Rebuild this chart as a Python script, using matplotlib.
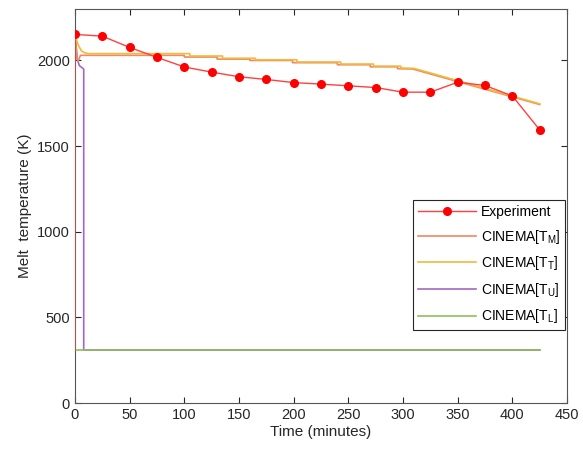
import matplotlib
matplotlib.use("Agg")
import matplotlib.pyplot as plt

plt.rcParams['font.family'] = ['Liberation Sans', 'DejaVu Sans']
plt.rcParams['mathtext.fontset'] = 'custom'
plt.rcParams['mathtext.rm'] = 'Liberation Sans'

exp_t = [0, 25, 50, 75, 100, 125, 150, 175, 200, 225, 250, 275, 300, 325, 350, 375, 400, 425]
exp_T = [2152, 2142, 2076, 2018, 1962, 1932, 1905, 1889, 1871, 1862, 1852, 1842, 1815, 1815, 1873, 1854, 1793, 1595]

tm_t = [0, 0, 1, 2, 3, 5, 8, 100, 100, 130, 130, 160, 160, 199, 199, 240, 240, 270, 270, 295, 295, 309, 425]
tm_T = [310, 2150, 2090, 2010, 1998, 2030, 2030, 2030, 2020, 2020, 2008, 2008, 2000, 2000, 1987, 1987, 1975, 1975, 1963, 1963, 1952, 1950, 1743]

tt_t = [0, 3, 6, 9, 12, 105, 105, 135, 135, 165, 165, 203, 203, 243, 243, 273, 273, 298, 298, 310, 425]
tt_T = [2150, 2090, 2055, 2045, 2040, 2040, 2026, 2026, 2013, 2013, 2004, 2004, 1991, 1991, 1979, 1979, 1967, 1967, 1956, 1954, 1747]

tu_t = [0, 1, 2, 4, 6, 7, 8, 8, 425]
tu_T = [2150, 2080, 2010, 1970, 1960, 1955, 1950, 310, 310]

tl_t = [0, 425]
tl_T = [310, 310]

fig = plt.figure(figsize=(5.83, 4.53), dpi=100)
ax = fig.add_axes([0.1286, 0.110, 0.8440, 0.870])

ax.plot(tu_t, tu_T, color='#A368C4', lw=1.2, label='CINEMA[T$_\\mathrm{U}$]', zorder=2)
ax.plot(tl_t, tl_T, color='#8DBE5A', lw=1.2, label='CINEMA[T$_\\mathrm{L}$]', zorder=3)
ax.plot(tm_t, tm_T, color='#EE8866', lw=1.2, label='CINEMA[T$_\\mathrm{M}$]', zorder=4)
ax.plot(tt_t, tt_T, color='#F2B93A', lw=1.2, label='CINEMA[T$_\\mathrm{T}$]', zorder=5)
ax.plot([0, 0], [310, 2150], color='#B04A40', lw=1.2, zorder=4)
ax.plot(exp_t, exp_T, color='#FF4040', lw=1.0, marker='o', markersize=5.5,
        markerfacecolor='#FF0000', markeredgecolor='#FF0000', label='Experiment', zorder=6)

ax.set_xlim(0, 450)
ax.set_ylim(0, 2300)
ax.set_xticks(range(0, 451, 50))
ax.set_yticks([0, 500, 1000, 1500, 2000])
ax.tick_params(direction='in', top=True, right=True, labelsize=10.5, colors='#262626', length=4)
for s in ax.spines.values():
    s.set_color('#555555')
    s.set_linewidth(0.8)
ax.set_xlabel('Time (minutes)', fontsize=11, color='#262626', labelpad=2)
ax.set_ylabel('Melt  temperature (K)', fontsize=11, color='#262626')

h, l = ax.get_legend_handles_labels()
order = ['Experiment', 'CINEMA[T$_\\mathrm{M}$]', 'CINEMA[T$_\\mathrm{T}$]', 'CINEMA[T$_\\mathrm{U}$]', 'CINEMA[T$_\\mathrm{L}$]']
hh = [h[l.index(o)] for o in order]
leg = ax.legend(hh, order, loc='lower right', bbox_to_anchor=(0.996, 0.185), fontsize=10,
                frameon=True, fancybox=False, edgecolor='#262626', framealpha=1,
                handlelength=4.2, labelspacing=0.62, borderpad=0.35, handletextpad=0.3,
                borderaxespad=0, markerscale=1.0)
leg.get_frame().set_linewidth(0.8)

fig.savefig('out.png', dpi=100)
